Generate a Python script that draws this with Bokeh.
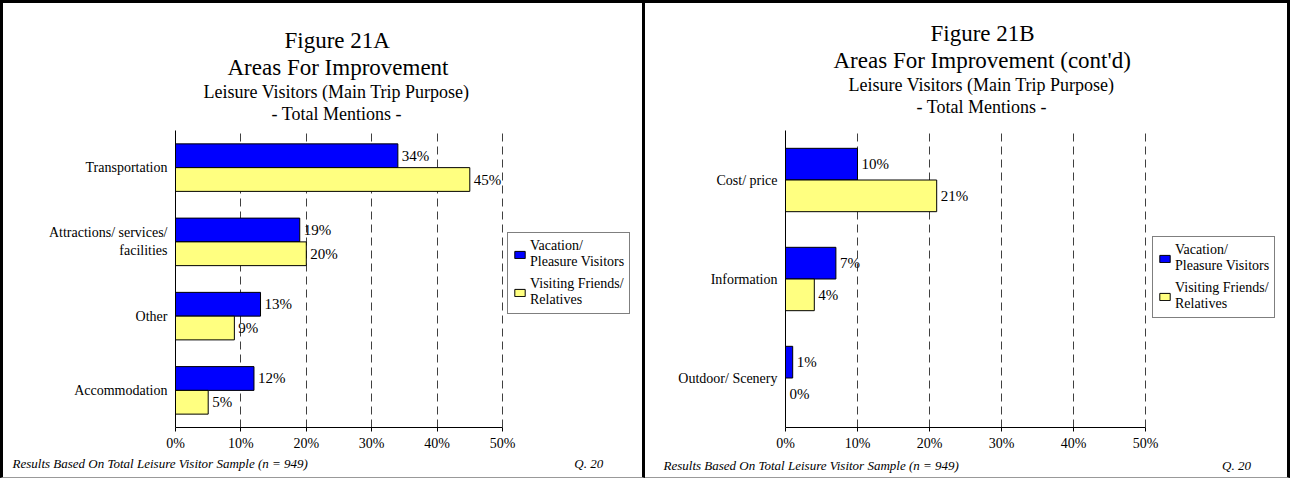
from bokeh.plotting import figure
from bokeh.models import (FactorRange, Range1d, FixedTicker, PrintfTickFormatter,
                          Title, Legend, LegendItem, ColumnDataSource)
from bokeh.transform import dodge
from bokeh.layouts import row
from bokeh.embed import file_html
from bokeh.resources import INLINE
from bokeh.core.properties import value

FONT = "Liberation Serif"

# ---- data ----
left_categories = ["Transportation", "Attractions/ services/\nfacilities", "Other", "Accommodation"]
left_vacation = [34, 19, 13, 12]
left_vfr = [45, 20, 9, 5]

right_categories = ["Cost/ price", "Information", "Outdoor/ Scenery"]
right_vacation = [10, 7, 1]
right_vfr = [21, 4, 0]

x_ticks = [0, 10, 20, 30, 40, 50]
x_max = 50
series_names = ["Vacation/\nPleasure Visitors", "Visiting Friends/\nRelatives"]
series_colors = ["#0000FF", "#FFFF80"]

left_titles = ["Figure 21A", "Areas For Improvement", "Leisure Visitors (Main Trip Purpose)", "- Total Mentions -"]
right_titles = ["Figure 21B", "Areas For Improvement (cont'd)", "Leisure Visitors (Main Trip Purpose)", "- Total Mentions -"]
title_sizes = ["23px", "23px", "18px", "18px"]
footer_text = "Results Based On Total Leisure Visitor Sample (n = 949)"
question_text = "Q. 20"

BLK = "3px solid black"
H = 478


def make_panel(cats, vac, vfr, titles, W, ml, mr, mt, mb, plot_px, title_offsets,
               spacer_size, legend_loc, foot_offset, foot_standoff, foot_gap, styles):
    frame_w = W - ml - mr
    x_end = x_max * frame_w / plot_px   # frame widened so the legend sits inside it
    p = figure(width=W, height=H, y_range=FactorRange(*list(reversed(cats))),
               x_range=Range1d(0, x_end), output_backend="svg", toolbar_location=None,
               min_border_left=ml, min_border_right=mr, min_border_top=mt,
               min_border_bottom=mb, styles=styles)
    p.outline_line_color = None
    p.background_fill_color = "white"
    p.border_fill_color = "white"

    src_v = ColumnDataSource(dict(cat=cats, val=vac, txt=[f"{v}%" for v in vac]))
    src_f = ColumnDataSource(dict(cat=cats, val=vfr, txt=[f"{v}%" for v in vfr]))
    off = 0.16
    r1 = p.hbar(y=dodge("cat", off, range=p.y_range), left=0, right="val", height=0.32,
                source=src_v, fill_color=series_colors[0], line_color="black", line_width=1)
    r2 = p.hbar(y=dodge("cat", -off, range=p.y_range), left=0, right="val", height=0.32,
                source=src_f, fill_color=series_colors[1], line_color="black", line_width=1)
    for src, o in ((src_v, off), (src_f, -off)):
        p.text(x="val", y=dodge("cat", o, range=p.y_range), text="txt", source=src,
               x_offset=4, text_baseline="middle", text_align="left",
               text_font=value(FONT), text_font_size="15px", text_color="black")

    p.xaxis.ticker = FixedTicker(ticks=x_ticks)
    p.xaxis.bounds = (0, x_max)
    p.xaxis.formatter = PrintfTickFormatter(format="%d%%")
    p.xaxis.major_label_text_font = FONT
    p.xaxis.major_label_text_font_size = "14px"
    p.xaxis.major_label_text_color = "black"
    p.xaxis.major_label_standoff = 4
    p.xaxis.major_tick_out = 4
    p.xaxis.major_tick_in = 0
    p.xaxis.major_tick_line_color = "black"
    p.xaxis.minor_tick_line_color = None
    p.xaxis.axis_line_color = "black"

    p.yaxis.major_label_text_font = FONT
    p.yaxis.major_label_text_font_size = "14px"
    p.yaxis.major_label_text_color = "black"
    p.yaxis.major_tick_line_color = None
    p.yaxis.major_tick_out = 0
    p.yaxis.major_tick_in = 0
    p.yaxis.major_label_standoff = 8
    p.yaxis.axis_line_color = "black"

    p.xgrid.ticker = FixedTicker(ticks=x_ticks[1:])
    p.xgrid.grid_line_color = "#404040"
    p.xgrid.grid_line_dash = "8 5"
    p.ygrid.visible = False

    # gap between frame and the title block
    p.add_layout(Title(text=" ", standoff=0, text_font=FONT, text_font_size=spacer_size,
                       text_font_style="normal"), "above")
    # titles: added from the frame outwards
    for t, s, of in reversed(list(zip(titles, title_sizes, title_offsets))):
        p.add_layout(Title(text=t, align="left", offset=of, standoff=0,
                           vertical_align="bottom", text_font=FONT, text_font_size=s,
                           text_font_style="normal", text_color="black"), "above")

    # footer line
    p.add_layout(Title(text=footer_text + "\u00a0" * foot_gap + question_text,
                       align="left", offset=foot_offset, standoff=foot_standoff,
                       vertical_align="bottom", text_font=FONT, text_font_size="13px",
                       text_font_style="italic", text_color="black"), "below")

    legend = Legend(items=[LegendItem(label=series_names[0], renderers=[r1]),
                           LegendItem(label=series_names[1], renderers=[r2])],
                    location=legend_loc)
    legend.label_text_font = FONT
    legend.label_text_font_size = "14px"
    legend.label_text_color = "black"
    legend.border_line_color = "black"
    legend.border_line_width = 1
    legend.background_fill_color = "white"
    legend.background_fill_alpha = 1
    legend.glyph_width = 13
    legend.glyph_height = 9
    legend.label_standoff = 4
    legend.padding = 5
    legend.margin = 0
    legend.spacing = 6
    p.add_layout(legend, "center")
    return p


p1 = make_panel(left_categories, left_vacation, left_vfr, left_titles, 645,
                172, 6, 120, 50, 327, [109, 52, 28, 96], "4px",
                (332, 113), -163, 0, 82,
                {"border-left": BLK, "border-top": BLK, "border-right": BLK,
                 "border-bottom": "1px solid #999999"})
p2 = make_panel(right_categories, right_vacation, right_vfr, right_titles, 645,
                140, 3, 127, 54, 360, [145, 48, 63, 131], "11px",
                (367, 109), -122, 4, 81,
                {"border-top": BLK, "border-right": BLK, "border-bottom": "1px solid #999999"})

layout = row(p1, p2)
open("out.html", "w").write(file_html(layout, INLINE))
